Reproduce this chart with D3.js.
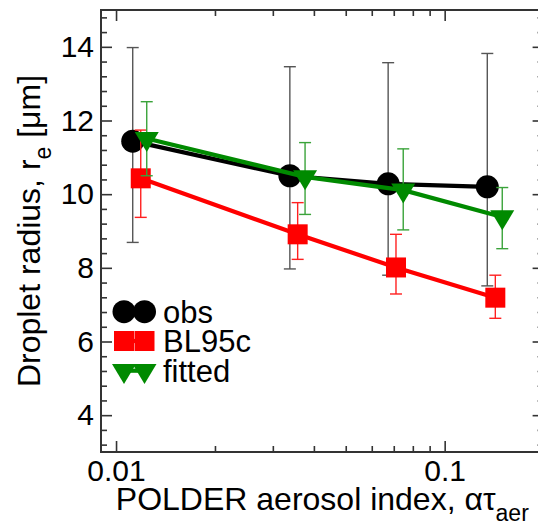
<!DOCTYPE html>
<html>
<head>
<meta charset="utf-8">
<script src="https://cdn.jsdelivr.net/npm/d3@7/dist/d3.min.js"></script>
<style>
  html, body { margin: 0; padding: 0; background: #fff; }
  svg { display: block; font-family: "Liberation Sans", Arial, Helvetica, sans-serif; }
</style>
</head>
<body>
<div id="chart"></div>
<script>
// --- data ---------------------------------------------------------------
const obsX = [0.01124, 0.0338, 0.0673, 0.1348];
const obsRe = [11.44, 10.50, 10.28, 10.20];
const obsLo = [8.69, 7.97, 7.80, 7.51];
const obsHi = [13.98, 13.46, 13.57, 13.82];

const blX = [0.01189, 0.0357, 0.0711, 0.1426];
const blRe = [10.43, 8.91, 8.01, 7.19];
const blLo = [9.37, 8.23, 7.29, 6.63];
const blHi = [11.74, 9.77, 8.91, 7.80];

const fitX = [0.0124, 0.0376, 0.0748, 0.1497];
const fitRe = [11.51, 10.47, 10.11, 9.38];
const fitLo = [10.50, 9.45, 9.03, 8.52];
const fitHi = [12.51, 11.40, 11.23, 10.18];

const seriesNames = ['obs', 'BL95c', 'fitted'];

const xMajorTicks = [0.01, 0.1];
const xMinorTicks = [0.02, 0.03, 0.04, 0.05, 0.06, 0.07, 0.08, 0.09];
const xTickLabels = ['0.01', '0.1'];
const yMajorTicks = [4, 6, 8, 10, 12, 14];
const yMinorTicks = [3.2, 3.6, 4.4, 4.8, 5.2, 5.6, 6.4, 6.8, 7.2, 7.6, 8.4, 8.8,
  9.2, 9.6, 10.4, 10.8, 11.2, 11.6, 12.4, 12.8, 13.2, 13.6, 14.4, 14.8];

// --- layout ---------------------------------------------------------------
const width = 538, height = 525;
const L = 101, R = 543.6, T = 10, B = 452;
const axisColor = '#333';

const x = d3.scaleLog().domain([0.009, 0.2]).range([L, R]);
const y = d3.scaleLinear().domain([3, 15]).range([B, T]);

const svg = d3.select('#chart').append('svg')
  .attr('width', width).attr('height', height)
  .attr('viewBox', `0 0 ${width} ${height}`);

// ticks (inward)
function styleAxis(g) {
  g.select('.domain').remove();
  g.selectAll('line').attr('stroke', axisColor).attr('stroke-width', 1.6);
  g.selectAll('text').attr('fill', '#000').style('font-size', '30px')
    .style('font-family', '"Liberation Sans", Arial, sans-serif');
}

svg.append('g').attr('transform', `translate(0,${B})`)
  .call(d3.axisBottom(x).tickValues(xMajorTicks).tickSizeInner(-11).tickSizeOuter(0)
    .tickPadding(8).tickFormat((d, i) => xTickLabels[i]))
  .call(styleAxis);
svg.append('g').attr('transform', `translate(0,${B})`)
  .call(d3.axisBottom(x).tickValues(xMinorTicks).tickSizeInner(-6).tickSizeOuter(0).tickFormat(''))
  .call(styleAxis);
svg.append('g').attr('transform', `translate(0,${T})`)
  .call(d3.axisTop(x).tickValues(xMajorTicks).tickSizeInner(-11).tickSizeOuter(0).tickFormat(''))
  .call(styleAxis);
svg.append('g').attr('transform', `translate(0,${T})`)
  .call(d3.axisTop(x).tickValues(xMinorTicks).tickSizeInner(-6).tickSizeOuter(0).tickFormat(''))
  .call(styleAxis);

svg.append('g').attr('transform', `translate(${L},0)`)
  .call(d3.axisLeft(y).tickValues(yMajorTicks).tickSizeInner(-11).tickSizeOuter(0).tickPadding(7))
  .call(styleAxis);
svg.append('g').attr('transform', `translate(${L},0)`)
  .call(d3.axisLeft(y).tickValues(yMinorTicks).tickSizeInner(-6).tickSizeOuter(0).tickFormat(''))
  .call(styleAxis);
svg.append('g').attr('transform', `translate(${R},0)`)
  .call(d3.axisRight(y).tickValues(yMajorTicks).tickSizeInner(-11).tickSizeOuter(0).tickFormat(''))
  .call(styleAxis);
svg.append('g').attr('transform', `translate(${R},0)`)
  .call(d3.axisRight(y).tickValues(yMinorTicks).tickSizeInner(-6).tickSizeOuter(0).tickFormat(''))
  .call(styleAxis);

// frame
svg.append('rect').attr('x', L).attr('y', T).attr('width', R - L).attr('height', B - T)
  .attr('fill', 'none').attr('stroke', axisColor).attr('stroke-width', 2);

// --- series ---------------------------------------------------------------
const symTri = {
  draw(ctx, size) {
    const w = 24, h = 20;
    ctx.moveTo(-w / 2, -h / 3);
    ctx.lineTo(w / 2, -h / 3);
    ctx.lineTo(0, 2 * h / 3);
    ctx.closePath();
  }
};

const series = [
  { xs: obsX, v: obsRe, lo: obsLo, hi: obsHi, color: '#000', err: '#555', shape: 'circle' },
  { xs: blX, v: blRe, lo: blLo, hi: blHi, color: '#ff0000', err: '#ff2020', shape: 'square' },
  { xs: fitX, v: fitRe, lo: fitLo, hi: fitHi, color: '#008a00', err: '#3aa33a', shape: 'tri' },
];

function marker(g, shape, cx, cy, color) {
  if (shape === 'circle') {
    g.append('circle').attr('cx', cx).attr('cy', cy).attr('r', 11.5).attr('fill', color);
  } else if (shape === 'square') {
    g.append('rect').attr('x', cx - 10).attr('y', cy - 10).attr('width', 20).attr('height', 20).attr('fill', color);
  } else {
    g.append('path').attr('transform', `translate(${cx},${cy})`)
      .attr('d', d3.symbol().type(symTri)()).attr('fill', color);
  }
}

series.forEach(s => {
  const g = svg.append('g');
  const idx = d3.range(s.xs.length);
  // error bars
  const eb = g.append('g').attr('stroke', s.err).attr('stroke-width', 1.4).attr('fill', 'none');
  idx.forEach(i => {
    const cx = x(s.xs[i]);
    eb.append('line').attr('x1', cx).attr('x2', cx).attr('y1', y(s.lo[i])).attr('y2', y(s.hi[i]));
    [s.lo[i], s.hi[i]].forEach(v => {
      eb.append('line').attr('x1', cx - 6).attr('x2', cx + 6).attr('y1', y(v)).attr('y2', y(v));
    });
  });
  // line
  g.append('path')
    .attr('d', d3.line().x(i => x(s.xs[i])).y(i => y(s.v[i]))(idx))
    .attr('fill', 'none').attr('stroke', s.color).attr('stroke-width', 4.2);
  idx.forEach(i => marker(g, s.shape, x(s.xs[i]), y(s.v[i]), s.color));
});

// --- legend ---------------------------------------------------------------
const legY = [311.7, 341, 370.7];
const legX1 = 124, legX2 = 144.5;
series.forEach((s, k) => {
  const g = svg.append('g');
  g.append('line').attr('x1', legX1).attr('x2', legX2).attr('y1', legY[k]).attr('y2', legY[k])
    .attr('stroke', s.color).attr('stroke-width', 4.2);
  marker(g, s.shape, legX1, legY[k], s.color);
  marker(g, s.shape, legX2, legY[k], s.color);
  g.append('text').attr('x', 163).attr('y', legY[k] + 11)
    .style('font-size', '31px').text(seriesNames[k]);
});

// --- axis titles ----------------------------------------------------------
const xt = svg.append('text').attr('x', (L + R) / 2).attr('y', 510)
  .attr('text-anchor', 'middle').style('font-size', '32px');
xt.append('tspan').text('POLDER aerosol index, ατ');
xt.append('tspan').attr('dy', 11).style('font-size', '23px').text('aer');

const yt = svg.append('text').attr('transform', `translate(40,${(T + B) / 2}) rotate(-90)`)
  .attr('text-anchor', 'middle').style('font-size', '32px');
yt.append('tspan').text('Droplet radius, r');
yt.append('tspan').attr('dy', 11).style('font-size', '23px').text('e');
yt.append('tspan').attr('dy', -11).text(' [μm]');
</script>
</body>
</html>
